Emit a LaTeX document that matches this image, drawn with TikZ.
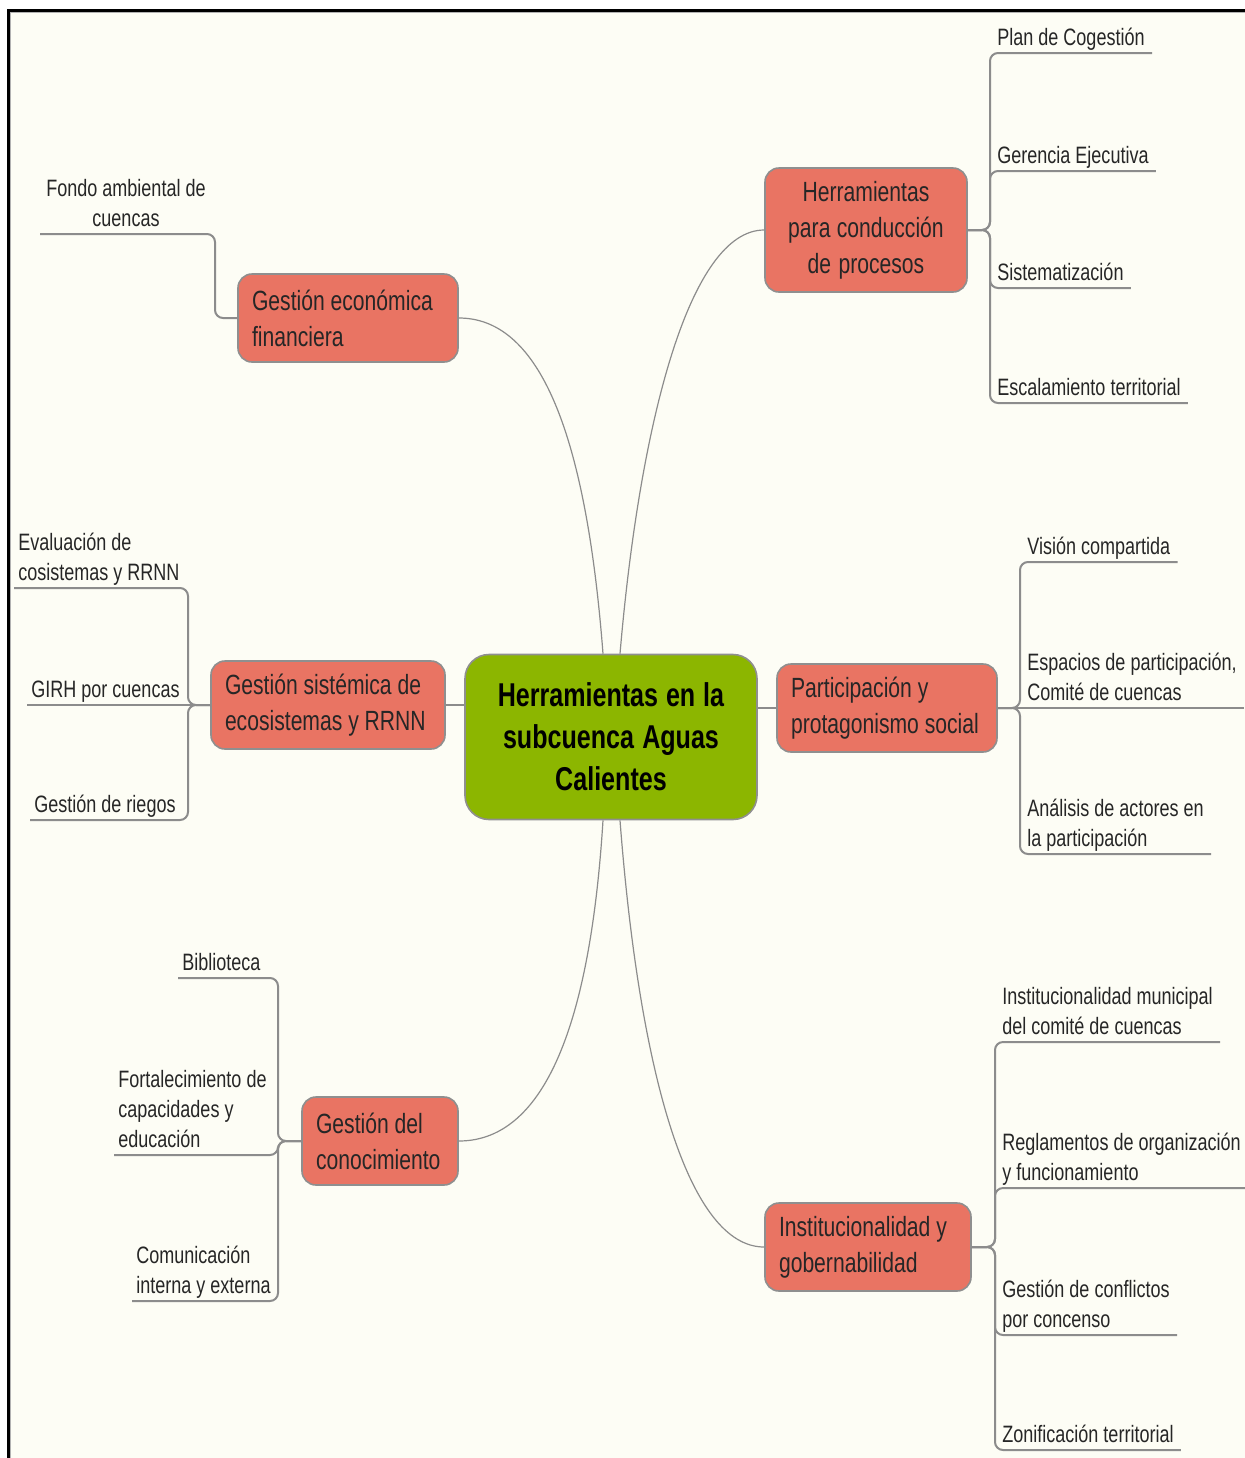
\documentclass[tikz,border=0pt]{standalone}
\usepackage{fontspec}
\setmainfont{Liberation Sans}[FakeStretch=0.76]
\definecolor{bg}{HTML}{FDFDF5}
\definecolor{salmon}{HTML}{E97463}
\definecolor{centergreen}{HTML}{8CB600}
\definecolor{txt}{HTML}{262626}
\definecolor{edge}{HTML}{8C8C8C}
\definecolor{nodeborder}{HTML}{8F8F8F}
\newcommand{\ls}{\rule[-3.5pt]{0pt}{3.5pt}}
\begin{document}
\begin{tikzpicture}[x=0.5pt,y=-0.5pt,
 every node/.style={execute at begin node={\spaceskip=0pt\xspaceskip=0pt\relax}},
 central/.style={draw=nodeborder, line width=0.8pt, fill=centergreen, rounded corners=12pt,
   text width=132pt, align=center, inner xsep=7pt, inner ysep=0pt, minimum height=82.5pt,
   font=\fontsize{16.5}{21}\selectfont\bfseries, text=black},
 branch/.style={draw=nodeborder, line width=0.8pt, fill=salmon, rounded corners=7pt,
   align=left, inner xsep=7pt, inner ysep=0pt, minimum height=44pt,
   font=\fontsize{13.9}{18}\selectfont, text=txt},
 leafR/.style={anchor=south west, align=left, inner xsep=3.5pt, inner ysep=0pt,
   font=\fontsize{11.85}{15}\selectfont, text=txt},
 leafL/.style={anchor=south west, align=left, inner xsep=2pt, inner ysep=0pt,
   font=\fontsize{11.85}{15}\selectfont, text=txt},
 curve/.style={draw=edge, line width=0.6pt},
 tree/.style={draw=edge, line width=1pt, rounded corners=4pt},
]
\useasboundingbox (0,0) rectangle (1245,1458);
% background and frame
\fill[white] (0,0) rectangle (1245,1458);
\fill[bg] (8,10) rectangle (1245,1458);
\draw[black!30, line width=0.6pt] (10.8,1458) -- (10.8,12.8) -- (1245,12.8);
\draw[black, line width=1.5pt] (8,1458) -- (8,10) -- (1245,10);

% central node
\node[central] (c) at (611,737) {Herramientas en la\\subcuenca Aguas\\Calientes};

% branch nodes
\node[branch, text width=87pt, align=center, minimum height=62pt] (b1) at (866,230) {Herramientas\\para conducción\\de procesos};
\node[branch, text width=96pt] (b2) at (348,318) {Gestión económica\\financiera};
\node[branch, text width=103pt] (b3) at (328,705) {Gestión sistémica de\\ecosistemas y RRNN};
\node[branch, text width=96pt] (b4) at (887,708) {Participación y\\protagonismo social};
\node[branch, text width=64pt] (b5) at (380,1141) {Gestión del\\conocimiento};
\node[branch, text width=89pt] (b6) at (868,1247) {Institucionalidad y\\gobernabilidad};

% center to branch connectors
\draw[curve] ([xshift=4.5pt]c.north) .. controls (640,420) and (690,230) .. (b1.west);
\draw[curve] ([xshift=-4pt]c.north) .. controls (585,420) and (535,318) .. (b2.east);
\draw[curve] (b3.east) -- (b3.east -| c.west);
\draw[curve] (b4.west) -- (b4.west -| c.east);
\draw[curve] ([xshift=-4pt]c.south) .. controls (588,1060) and (530,1141) .. (b5.east);
\draw[curve] ([xshift=4.5pt]c.south) .. controls (640,1080) and (690,1247) .. (b6.west);

% junctions
\coordinate (j1) at (990,230);
\coordinate (j2) at (215,318);
\coordinate (j3) at (188,705);
\coordinate (j4) at (1020,708);
\coordinate (j5) at (278,1141);
\coordinate (j6) at (995,1247);

% leaves of b1
\node[leafR] (l11) at (990,53) {Plan de Cogestión\ls};
\node[leafR] (l12) at (990,171) {Gerencia Ejecutiva\ls};
\node[leafR] (l13) at (990,288) {Sistematización\ls};
\node[leafR] (l14) at (990,403) {Escalamiento territorial\ls};
\foreach \l in {l11,l12,l13,l14}
  \draw[tree] (b1.east) -- (j1) |- (\l.south east);

% leaves of b2
\node[leafL, align=center, inner xsep=3pt] (l21) at (40,234) {Fondo ambiental de\\cuencas\ls};
\draw[tree] (b2.west) -- (j2) |- (l21.south west);

% leaves of b3
\node[leafL] (l31) at (14,588) {Evaluación de\\cosistemas y RRNN\ls};
\node[leafL] (l32) at (27,705) {GIRH por cuencas\ls};
\node[leafL] (l33) at (30,820) {Gestión de riegos\ls};
\draw[tree] (b3.west) -- (j3) |- (l31.south west);
\draw[tree] (b3.west) -- (l32.south west);
\draw[tree] (b3.west) -- (j3) |- (l33.south west);

% leaves of b4
\node[leafR] (l41) at (1020,562) {Visión compartida\ls};
\node[leafR] (l42) at (1020,708) {Espacios de participación,\\Comité de cuencas\ls};
\node[leafR] (l43) at (1020,854) {Análisis de actores en\\la participación\ls};
\draw[tree] (b4.east) -- (j4) |- (l41.south east);
\draw[tree] (b4.east) -- (l42.south east);
\draw[tree] (b4.east) -- (j4) |- (l43.south east);

% leaves of b5
\node[leafL] (l51) at (178,978) {Biblioteca\ls};
\node[leafL] (l52) at (114,1155) {Fortalecimiento de\\capacidades y\\educación\ls};
\node[leafL] (l53) at (132,1301) {Comunicación\\interna y externa\ls};
\foreach \l in {l51,l52,l53}
  \draw[tree] (b5.west) -- (j5) |- (\l.south west);

% leaves of b6
\node[leafR] (l61) at (995,1042) {Institucionalidad municipal\\del comité de cuencas\ls};
\node[leafR] (l62) at (995,1188) {Reglamentos de organización\\y funcionamiento\ls};
\node[leafR] (l63) at (995,1335) {Gestión de conflictos\\por concenso\ls};
\node[leafR] (l64) at (995,1450) {Zonificación territorial\ls};
\foreach \l in {l61,l62,l63,l64}
  \draw[tree] (b6.east) -- (j6) |- (\l.south east);
\end{tikzpicture}
\end{document}
